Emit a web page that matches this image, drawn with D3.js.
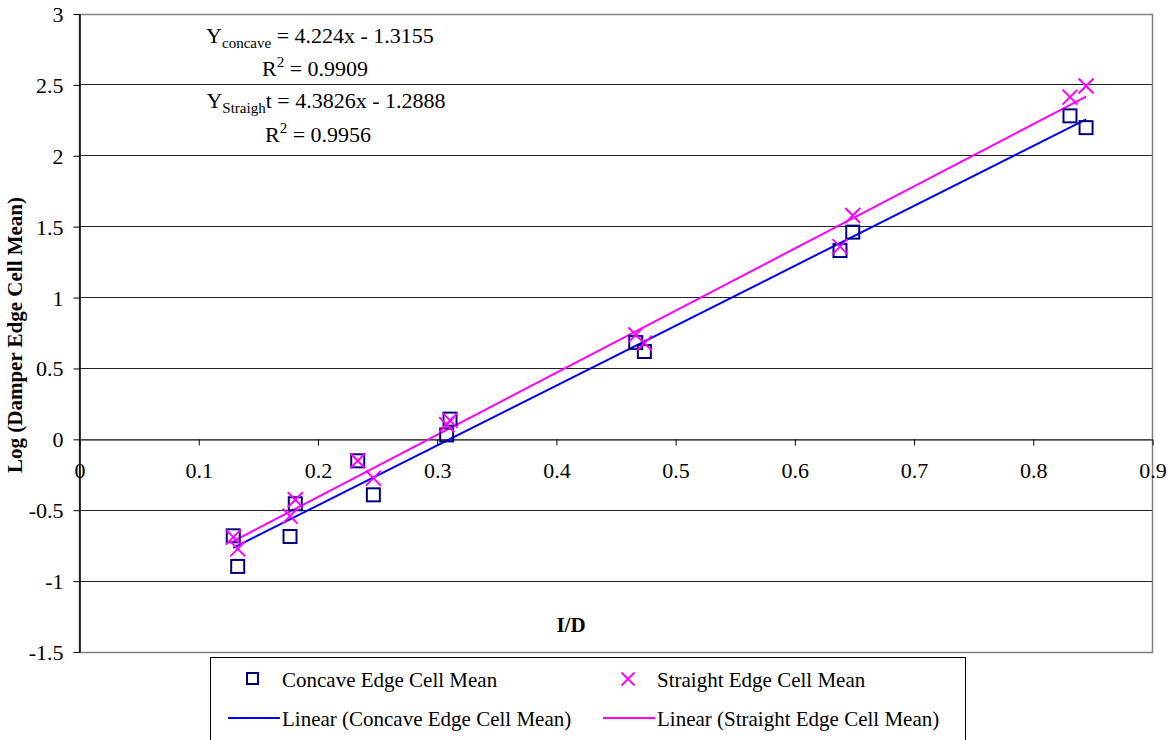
<!DOCTYPE html>
<html>
<head>
<meta charset="utf-8">
<script src="https://cdn.jsdelivr.net/npm/d3@7"></script>
<style>
  html, body { margin: 0; padding: 0; background: #fff; }
  svg { display: block; font-family: "Liberation Serif", "Times New Roman", serif; }
</style>
</head>
<body>
<svg id="chart" width="1172" height="740"></svg>
<script>
// I/D ratio for each cell, shared by both edge types
const ratioID = [0.1294, 0.1331, 0.1770, 0.1814, 0.2338, 0.2469, 0.3084, 0.3112, 0.4670, 0.4742, 0.6383, 0.6490, 0.8312, 0.8447];
// Log of damper edge cell mean
const concaveMean = [-0.684, -0.900, -0.689, -0.458, -0.155, -0.395, 0.028, 0.139, 0.679, 0.616, 1.328, 1.458, 2.278, 2.195];
const straightMean = [-0.693, -0.776, -0.545, -0.430, -0.155, -0.277, 0.100, 0.130, 0.733, 0.675, 1.356, 1.575, 2.410, 2.489];
// Linear fits (slope, intercept)
const concaveFit = [4.224, -1.3155];
const straightFit = [4.3826, -1.2888];
const xTicks = [0, 0.1, 0.2, 0.3, 0.4, 0.5, 0.6, 0.7, 0.8, 0.9];
const yTicks = [-1.5, -1, -0.5, 0, 0.5, 1, 1.5, 2, 2.5, 3];

const svg = d3.select("#chart");
const plotLeft = 79, plotRight = 1152, plotTop = 13.5, plotBottom = 651.5;

const x = d3.scaleLinear().domain([0, 0.9]).range([plotLeft, plotRight]);
const y = d3.scaleLinear().domain([-1.5, 3]).range([plotBottom, plotTop]);
const plain = d => String(d);

// horizontal gridlines
svg.append("g").selectAll("line").data(yTicks.filter(v => v > -1.5 && v < 3)).join("line")
  .attr("x1", plotLeft).attr("x2", plotRight)
  .attr("y1", d => Math.round(y(d)) + 0.5).attr("y2", d => Math.round(y(d)) + 0.5)
  .attr("stroke", "#222").attr("stroke-width", 1.2);

// plot frame
svg.append("rect")
  .attr("x", plotLeft + 0.5).attr("y", Math.round(plotTop) + 0.5)
  .attr("width", plotRight - plotLeft).attr("height", Math.round(plotBottom) - Math.round(plotTop))
  .attr("fill", "none").attr("stroke", "#808080").attr("stroke-width", 1.5);

// y axis
const yAxis = svg.append("g")
  .attr("transform", `translate(${plotLeft + 0.5},0.5)`)
  .call(d3.axisLeft(y).tickValues(yTicks).tickFormat(plain).tickSize(6).tickSizeOuter(0));
yAxis.select(".domain").attr("stroke", "#000").attr("stroke-width", 1.5);
yAxis.selectAll(".tick line").attr("stroke", "#000");
yAxis.selectAll(".tick text")
  .attr("x", -16).attr("dy", "0.34em")
  .attr("font-size", 22).attr("font-family", "Liberation Serif").attr("fill", "#000");

// x axis at y = 0
const xAxis = svg.append("g")
  .attr("transform", `translate(0.5,${Math.round(y(0)) + 0.5})`)
  .call(d3.axisBottom(x).tickValues(xTicks).tickFormat(plain).tickSize(6).tickSizeOuter(0));
xAxis.select(".domain").attr("stroke", "#555").attr("stroke-width", 1.5);
xAxis.selectAll(".tick line").attr("stroke", "#000");
xAxis.selectAll(".tick text")
  .attr("y", 23).attr("dy", "0.71em")
  .attr("font-size", 22).attr("font-family", "Liberation Serif").attr("fill", "#000");

// trend lines
const xMin = d3.min(ratioID), xMax = d3.max(ratioID);
const fitLine = d3.line().x(d => x(d[0])).y(d => y(d[1]));
[[concaveFit, "#0000FF"], [straightFit, "#FF00FF"]].forEach(([f, c]) => {
  svg.append("path")
    .attr("d", fitLine([[xMin, f[0] * xMin + f[1]], [xMax, f[0] * xMax + f[1]]]))
    .attr("stroke", c).attr("stroke-width", 2).attr("fill", "none");
});

// concave markers (squares)
const sq = 13;
svg.append("g").selectAll("rect").data(ratioID.map((v, i) => [v, concaveMean[i]])).join("rect")
  .attr("x", d => x(d[0]) - sq / 2).attr("y", d => y(d[1]) - sq / 2)
  .attr("width", sq).attr("height", sq)
  .attr("fill", "none").attr("stroke", "#000080").attr("stroke-width", 2);

// straight markers (crosses)
const cr = 7.5;
const crossPath = (cx, cy, r) => `M${cx - r},${cy - r}L${cx + r},${cy + r}M${cx - r},${cy + r}L${cx + r},${cy - r}`;
svg.append("g").selectAll("path").data(ratioID.map((v, i) => [v, straightMean[i]])).join("path")
  .attr("d", d => crossPath(x(d[0]), y(d[1]), cr))
  .attr("stroke", "#FF00FF").attr("stroke-width", 2).attr("fill", "none");

// equation annotations
function equation(cx, baseline, sub, rest) {
  const t = svg.append("text").attr("x", cx).attr("y", baseline)
    .attr("text-anchor", "middle").attr("font-size", 22).attr("fill", "#000");
  t.append("tspan").text("Y");
  t.append("tspan").attr("font-size", 15).attr("dy", 5).text(sub);
  t.append("tspan").attr("dy", -5).text(rest);
}
function rsq(cx, baseline, val) {
  const t = svg.append("text").attr("x", cx).attr("y", baseline)
    .attr("text-anchor", "middle").attr("font-size", 22).attr("fill", "#000");
  t.append("tspan").text("R");
  t.append("tspan").attr("font-size", 15).attr("dy", -9).text("2");
  t.append("tspan").attr("dy", 9).text(" = " + val);
}
equation(320, 43, "concave", ` = ${concaveFit[0]}x - ${Math.abs(concaveFit[1])}`);
rsq(315, 76, "0.9909");
equation(326, 108, "Straigh", `t = ${straightFit[0]}x - ${Math.abs(straightFit[1])}`);
rsq(318, 142, "0.9956");

// axis titles
svg.append("text")
  .attr("transform", "translate(22,335) rotate(-90)")
  .attr("text-anchor", "middle").attr("font-size", 21).attr("font-weight", "bold")
  .text("Log (Damper Edge Cell Mean)");
svg.append("text")
  .attr("x", 571).attr("y", 632)
  .attr("text-anchor", "middle").attr("font-size", 21).attr("font-weight", "bold")
  .text("I/D");

// legend
const lg = svg.append("g");
lg.append("rect").attr("x", 210.5).attr("y", 657.5).attr("width", 755).attr("height", 90)
  .attr("fill", "#fff").attr("stroke", "#000").attr("stroke-width", 1);
lg.append("rect").attr("x", 247).attr("y", 673).attr("width", 11).attr("height", 11)
  .attr("fill", "none").attr("stroke", "#000080").attr("stroke-width", 2);
lg.append("text").attr("x", 282).attr("y", 687).attr("font-size", 21).text("Concave Edge Cell Mean");
lg.append("path").attr("d", crossPath(628, 679, 6.5))
  .attr("stroke", "#FF00FF").attr("stroke-width", 1.8).attr("fill", "none");
lg.append("text").attr("x", 657).attr("y", 687).attr("font-size", 21).text("Straight Edge Cell Mean");
lg.append("line").attr("x1", 228).attr("x2", 280).attr("y1", 718).attr("y2", 718)
  .attr("stroke", "#0000FF").attr("stroke-width", 2);
lg.append("text").attr("x", 282).attr("y", 726).attr("font-size", 21).text("Linear (Concave Edge Cell Mean)");
lg.append("line").attr("x1", 603).attr("x2", 655).attr("y1", 718).attr("y2", 718)
  .attr("stroke", "#FF00FF").attr("stroke-width", 2);
lg.append("text").attr("x", 657).attr("y", 726).attr("font-size", 21).text("Linear (Straight Edge Cell Mean)");
</script>
</body>
</html>
